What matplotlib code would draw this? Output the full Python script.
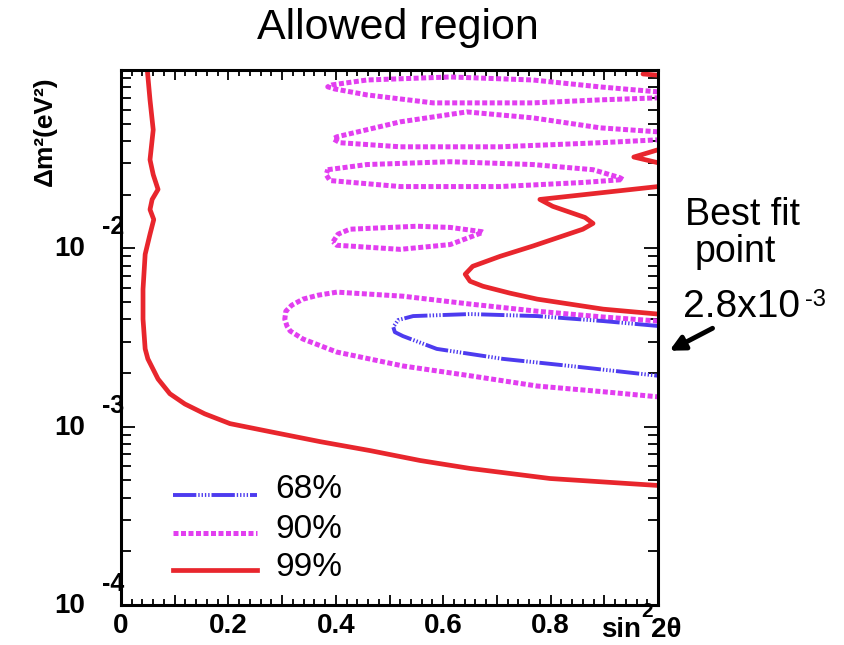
"""Allowed region plot: sin^2(2θ) vs Δm² confidence contours."""

import matplotlib

matplotlib.use("Agg")
import matplotlib.pyplot as plt
from matplotlib.ticker import FuncFormatter, LogLocator, MultipleLocator, NullFormatter

plt.rcParams["font.family"] = ["Liberation Sans", "DejaVu Sans"]

W, H = 844, 645

# --- contour lines: (sin^2 2θ, Δm² in eV²) ------------------------------------
# 99% C.L. — left / lower boundary
RED_LOW_X = [0.049, 0.054, 0.060, 0.054, 0.060, 0.069, 0.058, 0.054, 0.061, 0.054,
             0.045, 0.041, 0.041, 0.045, 0.050, 0.069, 0.091, 0.119, 0.156, 0.203,
             0.277, 0.371, 0.464, 0.557, 0.650, 0.799, 1.0]
RED_LOW_Y = [0.1, 0.0680, 0.0462, 0.0314, 0.0259, 0.0214, 0.0188, 0.0165, 0.0145, 0.0120,
             0.00926, 0.00590, 0.00401, 0.00273, 0.00240, 0.00185, 0.00153, 0.00134,
             0.00118, 0.00104, 0.000938, 0.000824, 0.000734, 0.000646, 0.000583,
             0.000512, 0.000468]
# 99% C.L. — right-hand zigzag boundary
RED_UP_X = [1.0, 0.780, 0.804, 0.864, 0.879, 0.860, 0.767, 0.706, 0.655, 0.641, 0.650,
            0.674, 0.724, 0.775, 0.898, 1.0]
RED_UP_Y = [0.0222, 0.0188, 0.0172, 0.0149, 0.0138, 0.0128, 0.0103, 0.00902, 0.00793,
            0.00716, 0.00654, 0.00613, 0.00561, 0.00519, 0.00456, 0.00428]
# 99% C.L. — small lobes at the right edge
RED_LOBE_X = [1.0, 0.955, 1.0]
RED_LOBE_Y = [0.0357, 0.0325, 0.0302]
RED_TOP_X = [0.972, 1.0]
RED_TOP_Y = [0.0950, 0.0935]

# 90% C.L. islands
MAG1_X = [1.0, 0.892, 0.767, 0.613, 0.458, 0.393, 0.385, 0.398, 0.458, 0.581, 0.767, 0.892, 1.0]
MAG1_Y = [0.0754, 0.0804, 0.0879, 0.0914, 0.0879, 0.0825, 0.0805, 0.0783, 0.0725, 0.0654,
          0.0654, 0.0680, 0.0698]
MAG2_X = [1.0, 0.892, 0.767, 0.644, 0.520, 0.402, 0.395, 0.408, 0.520, 0.706, 0.892, 1.0]
MAG2_Y = [0.0450, 0.0474, 0.0539, 0.0582, 0.0512, 0.0422, 0.0411, 0.0391, 0.0371, 0.0371,
          0.0391, 0.0406]
MAG3_X = [0.385, 0.458, 0.613, 0.767, 0.879, 0.929, 0.935, 0.860, 0.706, 0.520, 0.389,
          0.382, 0.385]
MAG3_Y = [0.0276, 0.0295, 0.0306, 0.0295, 0.0276, 0.0249, 0.0243, 0.0234, 0.0222, 0.0222,
          0.0240, 0.0259, 0.0276]
MAG4_X = [0.395, 0.404, 0.426, 0.551, 0.613, 0.672, 0.674, 0.613, 0.520, 0.426, 0.402, 0.395]
MAG4_Y = [0.0109, 0.0120, 0.0128, 0.0133, 0.0131, 0.0124, 0.0123, 0.0105, 0.00987, 0.0103,
          0.0104, 0.0109]
MAG5_X = [1.0, 0.898, 0.775, 0.650, 0.525, 0.402, 0.367, 0.339, 0.318, 0.307, 0.305, 0.309,
          0.315, 0.339, 0.402, 0.525, 0.650, 0.775, 0.898, 1.0]
MAG5_Y = [0.00391, 0.00412, 0.00444, 0.00487, 0.00539, 0.00568, 0.00546, 0.00519, 0.00480,
          0.00444, 0.00401, 0.00367, 0.00344, 0.00310, 0.00262, 0.00219, 0.00193, 0.00169,
          0.00157, 0.00147]

# 68% C.L.
BLUE_X = [1.0, 0.898, 0.775, 0.650, 0.544, 0.516, 0.507, 0.510, 0.525, 0.588, 0.711, 0.836, 1.0]
BLUE_Y = [0.00367, 0.00391, 0.00417, 0.00428, 0.00417, 0.00396, 0.00362, 0.00339, 0.00322,
          0.00273, 0.00240, 0.00219, 0.00193]

X_TICKS = [0.0, 0.2, 0.4, 0.6, 0.8]
Y_DECADES = [-2, -3, -4]
LEGEND_LABELS = ["68%", "90%", "99%"]

RED = "#e8262d"
MAGENTA = "#e23ef0"
BLUE = "#4d3bef"

STYLES = {
    "68%": {"color": BLUE, "lw": 2.8, "linestyle": (0, (6, 0.5, 0.35, 0.5, 0.35, 0.5, 0.35, 0.5, 0.35, 0.5))},
    "90%": {"color": MAGENTA, "lw": 3.6, "linestyle": (0, (1.0, 0.5))},
    "99%": {"color": RED, "lw": 3.4, "linestyle": "-"},
}


def px(x, y):
    """Figure pixel (from the top-left) -> figure fraction."""
    return x / W, 1 - y / H


fig = plt.figure(figsize=(W / 100, H / 100), dpi=100)
ax = fig.add_axes([121 / W, (H - 605) / H, (658 - 121) / W, (605 - 70) / H])

red = STYLES["99%"]
for xs, ys in [(RED_LOW_X, RED_LOW_Y), (RED_UP_X, RED_UP_Y), (RED_LOBE_X, RED_LOBE_Y),
               (RED_TOP_X, RED_TOP_Y)]:
    ax.plot(xs, ys, color=red["color"], lw=red["lw"], solid_joinstyle="round",
            solid_capstyle="round")

mag = STYLES["90%"]
for xs, ys in [(MAG1_X, MAG1_Y), (MAG2_X, MAG2_Y), (MAG3_X, MAG3_Y), (MAG4_X, MAG4_Y),
               (MAG5_X, MAG5_Y)]:
    ax.plot(xs, ys, color=mag["color"], lw=mag["lw"], linestyle=mag["linestyle"],
            dash_capstyle="butt")

blue = STYLES["68%"]
ax.plot(BLUE_X, BLUE_Y, color=blue["color"], lw=blue["lw"], linestyle=blue["linestyle"],
        dash_capstyle="butt")

ax.set_yscale("log")
ax.set_xlim(0, 1)
ax.set_ylim(1e-4, 1e-1)

for side in ax.spines.values():
    side.set_linewidth(2.2)

ax.xaxis.set_major_locator(MultipleLocator(0.1))
ax.xaxis.set_minor_locator(MultipleLocator(0.02))
ax.xaxis.set_major_formatter(
    FuncFormatter(lambda v, _: ("0" if abs(v) < 1e-9 else f"{v:.1f}")
                  if any(abs(v - t) < 1e-6 for t in X_TICKS) else "")
)
ax.yaxis.set_major_locator(LogLocator(base=10, numticks=10))
ax.yaxis.set_minor_locator(LogLocator(base=10, subs=range(2, 10), numticks=10))
ax.yaxis.set_major_formatter(NullFormatter())
ax.yaxis.set_minor_formatter(NullFormatter())
ax.tick_params(which="both", direction="in", top=True, right=True, width=1.3)
ax.tick_params(axis="x", which="major", length=7, pad=6, labelsize=20)
ax.tick_params(axis="x", which="minor", length=4)
ax.tick_params(axis="y", which="major", length=10)
ax.tick_params(axis="y", which="minor", length=7)
for lab in ax.get_xticklabels():
    lab.set_fontweight("bold")

# ROOT-style "10" with a raised exponent
for k in Y_DECADES:
    ax.annotate("10", xy=(0, 10.0 ** k), xycoords=ax.get_yaxis_transform(),
                xytext=(-51, -1), textcoords="offset pixels", ha="center", va="center",
                fontsize=20, fontweight="bold")
    ax.annotate(f"-{-k}", xy=(0, 10.0 ** k), xycoords=ax.get_yaxis_transform(),
                xytext=(-8, 21), textcoords="offset pixels", ha="center", va="center",
                fontsize=18, fontweight="bold")

fig.text(*px(45, 131), "Δm²(eV²)", rotation=90, ha="center", va="center",
         fontsize=19, fontweight="bold")
fig.text(*px(641, 637), "sin", ha="right", va="baseline", fontsize=20, fontweight="bold")
fig.text(*px(641, 617), "2", ha="left", va="baseline", fontsize=15, fontweight="bold")
fig.text(*px(651, 637), "2θ", ha="left", va="baseline", fontsize=20, fontweight="bold")

fig.text(*px(398, 28), "Allowed region", ha="center", va="center", fontsize=31)

# legend drawn by hand
for label, y_line, y_text in zip(LEGEND_LABELS, [495, 533, 570], [490, 530, 568]):
    st = STYLES[label]
    x0, y0 = px(173, y_line)
    x1, _ = px(257, y_line)
    fig.add_artist(plt.Line2D([x0, x1], [y0, y0], color=st["color"], lw=st["lw"],
                              linestyle=st["linestyle"], dash_capstyle="butt"))
    fig.text(*px(275, y_text), label, ha="left", va="center", fontsize=24)

fig.text(*px(685, 225), "Best fit", ha="left", va="baseline", fontsize=27)
fig.text(*px(695, 262), "point", ha="left", va="baseline", fontsize=27)
fig.text(*px(683, 317), "2.8x10", ha="left", va="baseline", fontsize=28)
fig.text(*px(805, 306), "-3", ha="left", va="baseline", fontsize=17)
ax.annotate("", xy=px(667, 352), xycoords="figure fraction",
            xytext=px(715, 327), textcoords="figure fraction",
            arrowprops=dict(arrowstyle="-|>", lw=3.5, color="black", mutation_scale=22))

fig.savefig("out.png", dpi=100)
